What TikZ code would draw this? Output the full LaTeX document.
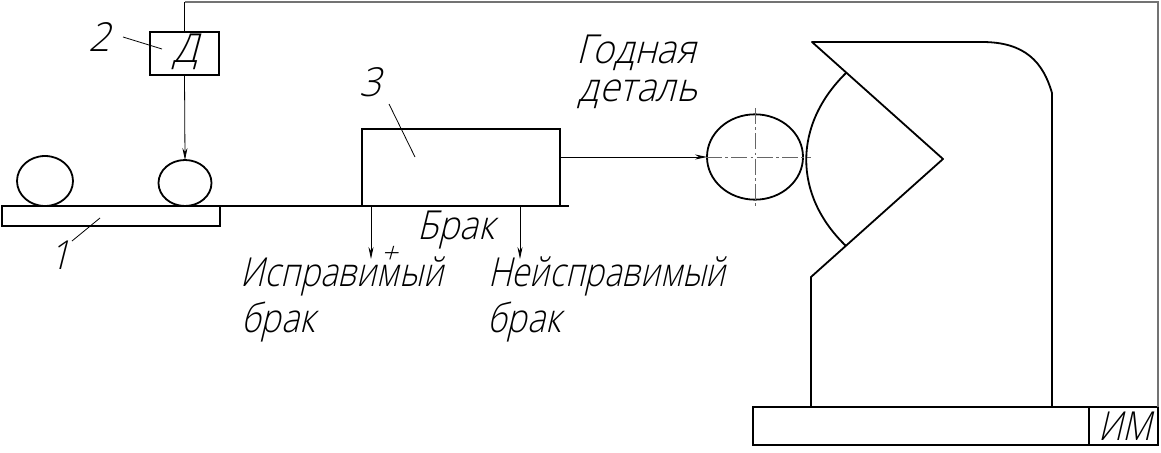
\documentclass[tikz,border=0pt]{standalone}
\usepackage{fontspec}
\usetikzlibrary{arrows.meta,shapes.geometric,calc}
\newfontfamily\gost[FakeSlant=0.28]{Open Sans Light}
\tikzset{
  heavy/.style={line width=1.35pt,black},
  thin/.style={line width=0.6pt,black},
  frameline/.style={line width=1.1pt,black!55},
  axis/.style={line width=0.6pt,black!60,dash pattern=on 12pt off 2.5pt on 2pt off 2.5pt},
  flow/.style={thin,-{Stealth[length=9pt,width=3.8pt]}},
  box/.style={heavy,draw,rectangle,inner sep=0pt,outer sep=0pt,anchor=north west},
  egg/.style={heavy,draw,ellipse,inner sep=0pt,outer sep=0pt},
  lbl/.style={font=\gost\fontsize{30pt}{32pt}\selectfont,inner sep=0pt,text=black,transform shape},
}
\begin{document}
\begin{tikzpicture}[x=0.75pt,y=-0.75pt]
\useasboundingbox (0,0) rectangle (1161,453);
% boxes
\node[box,minimum width=51.75pt,minimum height=32.25pt] (d) at (150,32) {};
\node[box,minimum width=163.5pt,minimum height=15pt] (conv) at (2,206) {};
\node[box,minimum width=148.5pt,minimum height=57.75pt] (ctl) at (362,129) {};
\node[box,minimum width=252pt,minimum height=28.5pt] (base) at (753,407) {};
\node[box,minimum width=51.75pt,minimum height=28.5pt] (im) at (1089,407) {};
\node[egg,minimum width=42pt,minimum height=37.5pt] (p1) at (45,181) {};
\node[egg,minimum width=39.75pt,minimum height=34.5pt] (p2) at (185,183) {};
\node[egg,minimum width=72pt,minimum height=64pt] (good) at (755,157) {};
% belt
\coordinate (beltend) at (569,206);
\draw[heavy] (conv.north east) -- (beltend);
% feedback
\coordinate (topl) at (d.north |- 0,2);
\coordinate (topr) at (1158,2);
\draw[thin] (d.north) -- (topl);
\draw[frameline] (topl) -- (topr) -- (im.north east);
% arrows
\draw[flow] (d.south) -- (p2.north);
\coordinate (ctlout) at (ctl.east |- good.west);
\draw[flow] (ctlout) -- (good.west);
\coordinate (b1) at (371,206); \coordinate (b1e) at (371,259);
\coordinate (b2) at (520,206); \coordinate (b2e) at (520,259);
\draw[flow] (b1) -- (b1e);
\draw[flow] (b2) -- (b2e);
% axes
\draw[axis] (706,157) -- (811,157);
\draw[axis] (755,108) -- (755,207);
% mechanism
\draw[heavy,line join=round] (811,407) -- (811,277) -- (943,159) -- (812,42) -- (982,42)
  .. controls (1025,42) and (1043,62) .. (1052,93) -- (1052,407);
\draw[heavy] (846,73) .. controls (793,125) and (793,195) .. (846,246);
% leaders
\coordinate (l2a) at (123,37); \coordinate (l2b) at (162,49);
\coordinate (l1a) at (72,241); \coordinate (l1b) at (100,218);
\coordinate (l3a) at (389,104); \coordinate (l3b) at (415,157);
\draw[thin] (l2a) -- (l2b);
\draw[thin] (l1a) -- (l1b);
\draw[thin] (l3a) -- (l3b);
% labels
\node[lbl,xscale=.95] (t2) at (99,37) {2};
\node[lbl,xscale=.9] (t1) at (60,255) {1};
\node[lbl,xscale=.95] (t3) at (370,82) {3};
\node[lbl,xscale=.95] (td) at (186,52) {Д};
\node[lbl,xscale=.92] (tgood1) at (636,53) {Годная};
\node[lbl,xscale=.93] (tgood2) at (638,94) {деталь};
\node[lbl,xscale=.88] (tbrak) at (456,230) {Брак};
\node[lbl,xscale=.83] (tfix1) at (342,276) {Исправимый};
\node[lbl,xscale=.85] (tfix2) at (278,322) {брак};
\node[lbl,xscale=.82] (tnofix1) at (607,276) {Нейсправимый};
\node[lbl,xscale=.85] (tnofix2) at (524,322) {брак};
\node[lbl] (tplus) at (389,255) {\fontsize{22pt}{24pt}\selectfont +};
\node[lbl,xscale=.84] (tim) at (1125,426) {ИМ};
\end{tikzpicture}
\end{document}
